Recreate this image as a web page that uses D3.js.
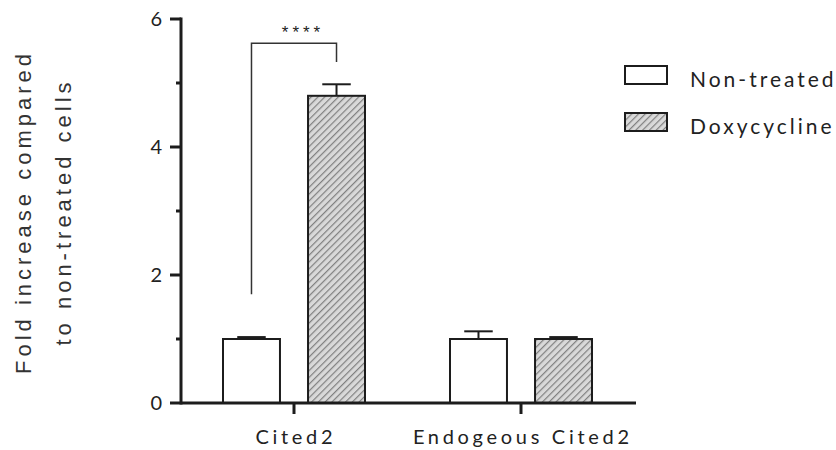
<!DOCTYPE html>
<html>
<head>
<meta charset="utf-8">
<script src="https://cdn.jsdelivr.net/npm/d3@7/dist/d3.min.js"></script>
<style>
  html, body { margin: 0; padding: 0; background: #fff; }
  svg { display: block; }
</style>
</head>
<body>
<svg id="chart" width="836" height="450"></svg>
<script>
// ---- data ----
const categories = ["Cited2", "Endogeous Cited2"];
const series = ["Non-treated", "Doxycycline"];
const means = {
  "Non-treated": [1.00, 1.00],
  "Doxycycline": [4.80, 1.00]
};
const errors = {
  "Non-treated": [0.03, 0.12],
  "Doxycycline": [0.18, 0.03]
};
const yMajorTicks = [0, 2, 4, 6];
const yMinorTicks = [1, 3, 5];
const yTitleLines = ["Fold increase compared", "to non-treated cells"];
const sigLabel = "****";
// bracket in data space: from Cited2 Non-treated to Cited2 Doxycycline
const sigBracket = { top: 5.62, leftBottom: 1.70, rightBottom: 5.33 };

// ---- layout ----
const svg = d3.select("#chart");
const y = d3.scaleLinear().domain([0, 6]).range([403, 19]);
const x = d3.scaleBand().domain(categories).range([180.5, 634.5]).paddingInner(0).paddingOuter(0);
const xs = d3.scaleBand().domain(series).range([-71, 71]).paddingInner(0.33).paddingOuter(0);
const cx = c => x(c) + x.bandwidth() / 2;

const ink = "#1c1c1c";
const labelFont = "Lato, 'Open Sans', sans-serif";

// hatch pattern
const defs = svg.append("defs");
const pat = defs.append("pattern")
  .attr("id", "hatch").attr("patternUnits", "userSpaceOnUse")
  .attr("width", 4.8).attr("height", 4.8)
  .attr("patternTransform", "rotate(45)");
pat.append("rect").attr("width", 4.8).attr("height", 4.8).attr("fill", "#d9d9d9");
pat.append("line").attr("x1", 0.6).attr("y1", 0).attr("x2", 0.6).attr("y2", 4.8)
  .attr("stroke", "#808080").attr("stroke-width", 1.2);

const fillFor = s => s === "Doxycycline" ? "url(#hatch)" : "#ffffff";

// bars
const barData = [];
series.forEach(s => categories.forEach((c, i) => barData.push({ s, c, v: means[s][i], e: errors[s][i] })));

const g = svg.append("g");
g.selectAll("rect.bar").data(barData).join("rect")
  .attr("class", "bar")
  .attr("x", d => cx(d.c) + xs(d.s))
  .attr("width", xs.bandwidth())
  .attr("y", d => y(d.v))
  .attr("height", d => y(0) - y(d.v))
  .attr("fill", d => fillFor(d.s))
  .attr("stroke", ink).attr("stroke-width", 2);

// error bars (upper only)
const capW = xs.bandwidth() / 2;
g.selectAll("line.err").data(barData).join("line")
  .attr("class", "err")
  .attr("x1", d => cx(d.c) + xs(d.s) + xs.bandwidth() / 2)
  .attr("x2", d => cx(d.c) + xs(d.s) + xs.bandwidth() / 2)
  .attr("y1", d => y(d.v)).attr("y2", d => y(d.v + d.e))
  .attr("stroke", ink).attr("stroke-width", 2);
g.selectAll("line.cap").data(barData).join("line")
  .attr("class", "cap")
  .attr("x1", d => cx(d.c) + xs(d.s) + xs.bandwidth() / 2 - capW / 2)
  .attr("x2", d => cx(d.c) + xs(d.s) + xs.bandwidth() / 2 + capW / 2)
  .attr("y1", d => y(d.v + d.e)).attr("y2", d => y(d.v + d.e))
  .attr("stroke", ink).attr("stroke-width", 2);

// y axis
const axisX = 181;
const yAxis = svg.append("g").attr("transform", `translate(${axisX},0)`);
yAxis.append("line").attr("x1", 0).attr("x2", 0).attr("y1", y(6) - 1.5).attr("y2", y(0) + 1.5)
  .attr("stroke", ink).attr("stroke-width", 3);
yAxis.selectAll("line.maj").data(yMajorTicks).join("line")
  .attr("x1", -11).attr("x2", 0).attr("y1", d => y(d)).attr("y2", d => y(d))
  .attr("stroke", ink).attr("stroke-width", 3);
yAxis.selectAll("line.min").data(yMinorTicks).join("line")
  .attr("x1", -5).attr("x2", 0).attr("y1", d => y(d)).attr("y2", d => y(d))
  .attr("stroke", ink).attr("stroke-width", 3);
yAxis.selectAll("text").data(yMajorTicks).join("text")
  .attr("x", -19).attr("y", d => y(d) + 7)
  .attr("text-anchor", "end")
  .attr("font-family", labelFont).attr("font-size", 20).attr("fill", "#222")
  .text(d => d);

// x axis
const xAxis = svg.append("g");
xAxis.append("line").attr("x1", axisX).attr("x2", 636).attr("y1", y(0)).attr("y2", y(0))
  .attr("stroke", ink).attr("stroke-width", 3);
xAxis.selectAll("line.tick").data(categories).join("line")
  .attr("x1", d => cx(d)).attr("x2", d => cx(d))
  .attr("y1", y(0)).attr("y2", y(0) + 11)
  .attr("stroke", ink).attr("stroke-width", 3);
xAxis.selectAll("text").data(categories).join("text")
  .attr("x", d => cx(d) + 1.8).attr("y", 444)
  .attr("text-anchor", "middle")
  .attr("font-family", labelFont).attr("font-size", 20).attr("letter-spacing", 3.7)
  .attr("fill", "#222")
  .text(d => d);

// y title
const yt = svg.append("g");
yTitleLines.forEach((line, i) => {
  yt.append("text")
    .attr("transform", `translate(${i === 0 ? 31 : 71},212) rotate(-90)`)
    .attr("text-anchor", "middle")
    .attr("font-family", "'Liberation Sans', Arial, sans-serif")
    .attr("font-size", 22).attr("letter-spacing", 4).attr("fill", "#333")
    .text(line);
});

// significance bracket
const xL = cx(categories[0]) + xs(series[0]) + xs.bandwidth() / 2;
const xR = cx(categories[0]) + xs(series[1]) + xs.bandwidth() / 2;
svg.append("path")
  .attr("d", `M${xL},${y(sigBracket.leftBottom)} V${y(sigBracket.top)} H${xR} V${y(sigBracket.rightBottom)}`)
  .attr("fill", "none").attr("stroke", "#333").attr("stroke-width", 1.5);
svg.append("text")
  .attr("x", (xL + xR) / 2 + 9).attr("y", 38)
  .attr("text-anchor", "middle")
  .attr("font-family", "'Liberation Sans', Arial, sans-serif").attr("font-size", 17).attr("letter-spacing", 4)
  .attr("fill", "#222")
  .text(sigLabel);

// legend
const legend = svg.append("g").attr("transform", "translate(625,66)");
const li = legend.selectAll("g").data(series).join("g")
  .attr("transform", (d, i) => `translate(0,${i * 47})`);
li.append("rect").attr("width", 42).attr("height", 18)
  .attr("fill", d => fillFor(d)).attr("stroke", ink).attr("stroke-width", 2);
li.append("text").attr("x", 65).attr("y", 20.5)
  .attr("font-family", labelFont).attr("font-size", 21).attr("letter-spacing", 3)
  .attr("fill", "#222")
  .text(d => d);
</script>
</body>
</html>
